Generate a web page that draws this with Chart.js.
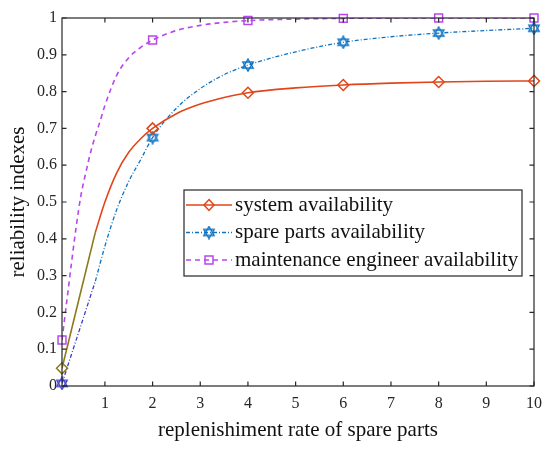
<!DOCTYPE html>
<html lang="en">
<head>
<meta charset="UTF-8">
<title>Reliability indexes</title>
<script src="https://cdn.jsdelivr.net/npm/chart.js"></script>
<style>
    html, body { margin: 0; padding: 0; background: #fff; }
    #chart { display: block; }
</style>
</head>
<body>
<canvas id="chart" width="550" height="451"></canvas>
<script>
// ---- data ----
const seriesNames = ['system availability', 'spare parts availability', 'maintenance engineer availability'];
const xTicks = [1, 2, 3, 4, 5, 6, 7, 8, 9, 10];
const yTicks = [0, 0.1, 0.2, 0.3, 0.4, 0.5, 0.6, 0.7, 0.8, 0.9, 1];

const markerX = [0.1, 2, 4, 6, 8, 10];
const systemMarks = [0.048, 0.700, 0.797, 0.818, 0.826, 0.829];
const spareMarks = [0.007, 0.675, 0.872, 0.934, 0.959, 0.972];
const engineerMarks = [0.125, 0.940, 0.993, 0.999, 1.000, 1.000];

// first short straight pieces (drawn in another colour in the figure)
const systemStartX = [0.1, 0.8];
const systemStartY = [0.048, 0.418];
const spareStartX = [0.1, 0.8];
const spareStartY = [0.007, 0.285];

const systemX = [0.8, 1.0, 1.25, 1.5, 1.75, 2.0, 2.5, 3.0, 3.5, 4.0, 5.0, 6.0, 7.0, 8.0, 9.0, 10];
const systemY = [0.418, 0.500, 0.580, 0.635, 0.672, 0.700, 0.740, 0.766, 0.784, 0.797, 0.810, 0.818, 0.823, 0.826, 0.828, 0.829];

const spareX = [0.8, 1.0, 1.25, 1.5, 1.75, 2.0, 2.5, 3.0, 3.5, 4.0, 5.0, 6.0, 7.0, 8.0, 9.0, 10];
const spareY = [0.285, 0.380, 0.480, 0.556, 0.615, 0.675, 0.755, 0.808, 0.846, 0.872, 0.908, 0.934, 0.949, 0.959, 0.966, 0.972];

const engineerX = [0.1, 0.2, 0.3, 0.4, 0.5, 0.6, 0.7, 0.8, 0.9, 1.0, 1.25, 1.5, 1.75, 2.0, 2.5, 3.0, 3.5, 4.0, 5.0, 6.0, 8.0, 10];
const engineerY = [0.125, 0.230, 0.335, 0.435, 0.520, 0.580, 0.635, 0.680, 0.720, 0.762, 0.845, 0.892, 0.920, 0.940, 0.966, 0.980, 0.988, 0.993, 0.997, 0.999, 1.000, 1.000];

// ---- styles ----
const OLIVE = '#8c7a1c';
const ORANGE = '#e0461a';
const DARKBLUE = '#3c3ccc';
const BLUE = '#0f72c0';
const PURPLE = '#b848ee';
const AXIS = '#262626';
const FONT = "'Liberation Serif', 'Times New Roman', serif";

function pts(xs, ys) {
    return xs.map((x, i) => ({ x: x, y: ys[i] }));
}

function hexagram(color) {
    const c = document.createElement('canvas');
    c.width = 14;
    c.height = 14;
    const g = c.getContext('2d');
    g.strokeStyle = color;
    g.lineWidth = 1.4;
    for (const start of [-90, 90]) {
        g.beginPath();
        for (let k = 0; k < 3; k++) {
            const a = (start + k * 120) * Math.PI / 180;
            const px = 7 + 6 * Math.cos(a);
            const py = 7 + 6 * Math.sin(a);
            if (k === 0) g.moveTo(px, py); else g.lineTo(px, py);
        }
        g.closePath();
        g.stroke();
    }
    return c;
}
const hexBlue = hexagram(BLUE);
const hexDark = hexagram(DARKBLUE);

// box around the axes with inward ticks on all four sides
const boxPlugin = {
    id: 'box',
    afterDatasetsDraw(chart) {
        const { ctx, chartArea: a, scales } = chart;
        ctx.save();
        ctx.strokeStyle = AXIS;
        ctx.lineWidth = 1.2;
        ctx.strokeRect(a.left, a.top, a.right - a.left, a.bottom - a.top);
        const len = 4.5;
        ctx.beginPath();
        xTicks.forEach(v => {
            const px = scales.x.getPixelForValue(v);
            ctx.moveTo(px, a.bottom); ctx.lineTo(px, a.bottom - len);
            ctx.moveTo(px, a.top); ctx.lineTo(px, a.top + len);
        });
        yTicks.forEach(v => {
            const py = scales.y.getPixelForValue(v);
            ctx.moveTo(a.left, py); ctx.lineTo(a.left + len, py);
            ctx.moveTo(a.right, py); ctx.lineTo(a.right - len, py);
        });
        ctx.stroke();
        ctx.restore();
    }
};

// legend box inside the plot
const legendPlugin = {
    id: 'innerLegend',
    afterDraw(chart) {
        const ctx = chart.ctx;
        const items = [
            { color: ORANGE, dash: [], marker: 'diamond' },
            { color: BLUE, dash: [4, 2, 1, 2], marker: 'hex' },
            { color: PURPLE, dash: [5, 4], marker: 'square' }
        ];
        const x0 = 184, y0 = 190, w = 338, h = 86;
        ctx.save();
        ctx.fillStyle = '#fff';
        ctx.fillRect(x0, y0, w, h);
        ctx.strokeStyle = AXIS;
        ctx.lineWidth = 1.2;
        ctx.strokeRect(x0, y0, w, h);
        items.forEach((it, i) => {
            const cy = y0 + 15 + i * 27.5;
            ctx.strokeStyle = it.color;
            ctx.lineWidth = 1.5;
            ctx.setLineDash(it.dash);
            ctx.beginPath();
            ctx.moveTo(x0 + 2, cy);
            ctx.lineTo(x0 + 48, cy);
            ctx.stroke();
            ctx.setLineDash([]);
            const mx = x0 + 25;
            ctx.beginPath();
            if (it.marker === 'diamond') {
                ctx.moveTo(mx, cy - 5.5); ctx.lineTo(mx + 5, cy);
                ctx.lineTo(mx, cy + 5.5); ctx.lineTo(mx - 5, cy);
                ctx.closePath();
                ctx.stroke();
            } else if (it.marker === 'square') {
                ctx.rect(mx - 4, cy - 4, 8, 8);
                ctx.stroke();
            } else {
                ctx.drawImage(hexBlue, mx - 7, cy - 7);
            }
            ctx.fillStyle = '#111';
            ctx.font = '21px ' + FONT;
            ctx.textBaseline = 'middle';
            ctx.fillText(seriesNames[i], x0 + 51, cy);
        });
        ctx.restore();
    }
};

const lineBase = { pointRadius: 0, fill: false, order: 1, cubicInterpolationMode: 'monotone' };
const markBase = { showLine: false, order: 0, clip: false, pointBackgroundColor: 'rgba(0,0,0,0)', pointBorderWidth: 1.5 };

new Chart(document.getElementById('chart').getContext('2d'), {
    type: 'scatter',
    data: {
        datasets: [
            Object.assign({}, lineBase, { label: 'sys0', data: pts(systemStartX, systemStartY), showLine: true, borderColor: OLIVE, borderWidth: 1.6 }),
            Object.assign({}, lineBase, { label: seriesNames[0], data: pts(systemX, systemY), showLine: true, borderColor: ORANGE, borderWidth: 1.6 }),
            Object.assign({}, lineBase, { label: 'spare0', data: pts(spareStartX, spareStartY), showLine: true, borderColor: DARKBLUE, borderWidth: 1.3, borderDash: [4, 2, 1, 2] }),
            Object.assign({}, lineBase, { label: seriesNames[1], data: pts(spareX, spareY), showLine: true, borderColor: BLUE, borderWidth: 1.3, borderDash: [4, 2, 1, 2] }),
            Object.assign({}, lineBase, { label: seriesNames[2], data: pts(engineerX, engineerY), showLine: true, borderColor: PURPLE, borderWidth: 1.6, borderDash: [5, 4] }),
            Object.assign({}, markBase, {
                label: 'sysMarks', data: pts(markerX, systemMarks), pointStyle: 'rectRot', pointRadius: 5.5,
                pointBorderColor: markerX.map((x, i) => i === 0 ? OLIVE : ORANGE)
            }),
            Object.assign({}, markBase, {
                label: 'spareMarks', data: pts(markerX, spareMarks), pointRadius: 7,
                pointStyle: markerX.map((x, i) => i === 0 ? hexDark : hexBlue)
            }),
            Object.assign({}, markBase, {
                label: 'engMarks', data: pts(markerX, engineerMarks), pointStyle: 'rect', pointRadius: 5.6,
                pointBorderColor: PURPLE
            })
        ]
    },
    options: {
        responsive: false,
        animation: false,
        layout: { padding: { top: 18, right: 14, left: 0, bottom: 0 } },
        plugins: {
            legend: { display: false },
            tooltip: { enabled: false }
        },
        scales: {
            x: {
                type: 'linear',
                min: 0.1,
                max: 10,
                afterBuildTicks: s => { s.ticks = xTicks.map(v => ({ value: v })); },
                afterFit: s => { s.height = 65; },
                grid: { display: false, drawTicks: false },
                border: { display: false },
                ticks: { color: AXIS, padding: 8, font: { family: FONT, size: 16 }, callback: v => String(v) },
                title: { display: true, text: 'replenishiment rate of spare parts', color: '#111', font: { family: FONT, size: 21 }, padding: { top: 0, bottom: 8 } }
            },
            y: {
                type: 'linear',
                min: 0,
                max: 1,
                afterBuildTicks: s => { s.ticks = yTicks.map(v => ({ value: v })); },
                afterFit: s => { s.width = 62; },
                grid: { display: false, drawTicks: false },
                border: { display: false },
                ticks: { color: AXIS, padding: 5, font: { family: FONT, size: 16 }, callback: v => String(+v.toFixed(1)) },
                title: { display: true, text: 'reliability indexes', color: '#111', font: { family: FONT, size: 21 }, padding: { top: 6, bottom: 0 } }
            }
        }
    },
    plugins: [boxPlugin, legendPlugin]
});
</script>
</body>
</html>
